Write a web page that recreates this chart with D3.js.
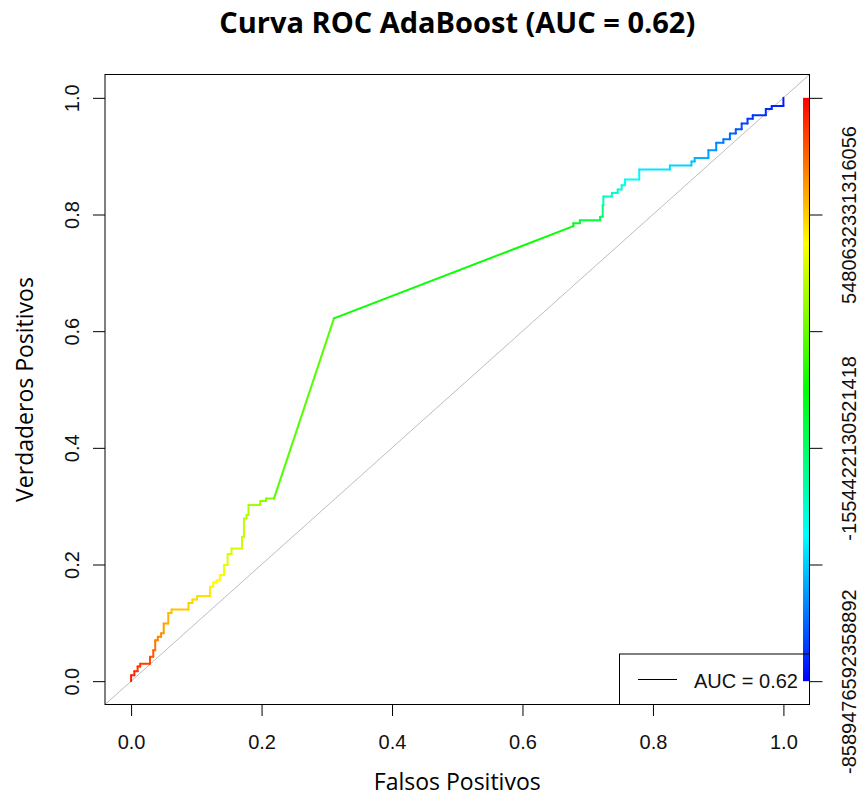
<!DOCTYPE html>
<html>
<head>
<meta charset="utf-8">
<script src="https://cdn.jsdelivr.net/npm/d3@7"></script>
<style>
  body { margin: 0; background: #fff; }
</style>
</head>
<body>
<div id="chart"></div>
<script>
const fpr = [0, 0, 0.005, 0.005, 0.010, 0.010, 0.014, 0.014, 0.029, 0.029,
  0.034, 0.034, 0.037, 0.037, 0.041, 0.041, 0.046, 0.046, 0.050, 0.050,
  0.057, 0.057, 0.062, 0.062, 0.088, 0.088, 0.094, 0.094, 0.101, 0.101,
  0.121, 0.121, 0.126, 0.126, 0.131, 0.131, 0.136, 0.136, 0.1425, 0.1425,
  0.148, 0.148, 0.154, 0.154, 0.170, 0.170, 0.173, 0.173, 0.177, 0.177,
  0.180, 0.180, 0.198, 0.198, 0.207, 0.207, 0.219, 0.311, 0.678, 0.678,
  0.688, 0.688, 0.719, 0.719, 0.723, 0.723, 0.724, 0.724, 0.737, 0.737,
  0.746, 0.746, 0.752, 0.752, 0.757, 0.757, 0.779, 0.779, 0.826, 0.826,
  0.859, 0.859, 0.864, 0.864, 0.885, 0.885, 0.897, 0.897, 0.908, 0.908,
  0.918, 0.918, 0.927, 0.927, 0.936, 0.936, 0.945, 0.945, 0.953, 0.953,
  0.973, 0.973, 0.982, 0.982, 1.000, 1.000]
const tpr = [0, 0.010, 0.010, 0.017, 0.017, 0.025, 0.025, 0.030, 0.030, 0.042,
  0.042, 0.053, 0.053, 0.070, 0.070, 0.076, 0.076, 0.082, 0.082, 0.099,
  0.099, 0.117, 0.117, 0.123, 0.123, 0.134, 0.134, 0.140, 0.140, 0.146,
  0.146, 0.162, 0.162, 0.169, 0.169, 0.173, 0.173, 0.182, 0.182, 0.199,
  0.199, 0.218, 0.218, 0.2275, 0.2275, 0.247, 0.247, 0.279, 0.279, 0.285,
  0.285, 0.302, 0.302, 0.309, 0.309, 0.313, 0.313, 0.622, 0.780, 0.785,
  0.785, 0.790, 0.790, 0.796, 0.796, 0.816, 0.816, 0.831, 0.831, 0.837,
  0.837, 0.843, 0.843, 0.850, 0.850, 0.860, 0.860, 0.877, 0.877, 0.884,
  0.884, 0.891, 0.891, 0.897, 0.897, 0.910, 0.910, 0.923, 0.923, 0.929,
  0.929, 0.939, 0.939, 0.946, 0.946, 0.956, 0.956, 0.964, 0.964, 0.970,
  0.970, 0.981, 0.981, 0.986, 0.986, 1.000]

const cutoffTpr = [0, 0.03, 0.07, 0.12, 0.146, 0.2, 0.3, 0.315, 0.622, 0.78,
  0.8, 0.83, 0.86, 0.88, 0.9, 0.93, 0.96, 1]
const cutoffLevel = [0.98, 0.94, 0.875, 0.81, 0.78, 0.72, 0.667, 0.62, 0.54, 0.48,
  0.4, 0.31, 0.26, 0.22, 0.167, 0.117, 0.06, 0.02]

const xTicks = [0, 0.2, 0.4, 0.6, 0.8, 1.0]
const yTicks = [0, 0.2, 0.4, 0.6, 0.8, 1.0]
const colorbarLabels = ["-8589476592358892", "", "-1554422130521418", "", "5480632331316056", ""]

const titleText = "Curva ROC AdaBoost (AUC = 0.62)"
const xLabel = "Falsos Positivos"
const yLabel = "Verdaderos Positivos"
const legendText = "AUC = 0.62"

//Crea Lienzo
var width = 860
var height = 796
var plotLeft = 105, plotRight = 809.5, plotTop = 74.5, plotBottom = 704.5

var svg = d3.select("#chart")
            .append("svg")
            .attr("width", width)
            .attr("height", height)

var x = d3.scaleLinear().domain([-0.04, 1.04]).range([plotLeft, plotRight])
var y = d3.scaleLinear().domain([-0.04, 1.04]).range([plotBottom, plotTop])

// color tipo rainbow de R (rojo -> azul)
var levelScale = d3.scaleLinear().domain(cutoffTpr).range(cutoffLevel).clamp(true)
function rainbow(level) {
    return d3.hsl(240 * (1 - level), 1, 0.5).formatHex()
}

//Diagonal de referencia
svg.append("line")
    .attr("x1", x(-0.04)).attr("y1", y(-0.04))
    .attr("x2", x(1.04)).attr("y2", y(1.04))
    .attr("stroke", "#bdbdbd")
    .attr("stroke-width", 1)

//Curva coloreada por segmento
var points = fpr.map((f, i) => ({f: f, t: tpr[i]}))
svg.append("g")
    .selectAll("line")
    .data(d3.pairs(points))
    .enter()
    .append("line")
    .attr("x1", d => x(d[0].f)).attr("y1", d => y(d[0].t))
    .attr("x2", d => x(d[1].f)).attr("y2", d => y(d[1].t))
    .attr("stroke", d => rainbow(levelScale((d[0].t + d[1].t) / 2)))
    .attr("stroke-width", 2)
    .attr("stroke-linecap", "round")

//Barra de color
var grad = svg.append("defs").append("linearGradient")
    .attr("id", "cbar")
    .attr("x1", 0).attr("y1", 1).attr("x2", 0).attr("y2", 0)
d3.range(0, 1.0001, 1 / 24).forEach(l => {
    grad.append("stop").attr("offset", l).attr("stop-color", rainbow(l))
})
svg.append("rect")
    .attr("x", plotRight - 6.5)
    .attr("y", y(1))
    .attr("width", 6.5)
    .attr("height", y(0) - y(1))
    .attr("fill", "url(#cbar)")

//Caja del grafico
svg.append("rect")
    .attr("x", plotLeft).attr("y", plotTop)
    .attr("width", plotRight - plotLeft).attr("height", plotBottom - plotTop)
    .attr("fill", "none")
    .attr("stroke", "#000")
    .attr("stroke-width", 1)

var tickFont = "'Liberation Sans', Arial, sans-serif"

//Eje X
var xAxis = svg.append("g")
    .attr("transform", "translate(0," + plotBottom + ")")
    .call(d3.axisBottom(x).tickValues(xTicks).tickFormat(d3.format(".1f")).tickSize(11.5).tickPadding(18.5))
xAxis.select(".domain").remove()

//Eje Y
var yAxis = svg.append("g")
    .attr("transform", "translate(" + plotLeft + ",0)")
    .call(d3.axisLeft(y).tickValues(yTicks).tickFormat(d3.format(".1f")).tickSize(12))
yAxis.select(".domain").remove()
yAxis.selectAll("text")
    .attr("transform", "rotate(-90)")
    .attr("x", 0)
    .attr("y", -33.3)
    .attr("dy", "0.35em")
    .style("text-anchor", "middle")

//Eje de la barra de color
var cAxis = svg.append("g")
    .attr("transform", "translate(" + plotRight + ",0)")
    .call(d3.axisRight(y).tickValues(yTicks).tickFormat((d, i) => colorbarLabels[i]).tickSize(13))
cAxis.select(".domain").remove()
cAxis.selectAll("text")
    .attr("transform", "rotate(-90)")
    .attr("x", 0)
    .attr("y", 39.5)
    .attr("dy", "0.35em")
    .style("text-anchor", "middle")

svg.selectAll(".tick line").attr("stroke", "#000")
svg.selectAll(".tick text")
    .attr("fill", "#111")
    .style("font-family", tickFont)
    .style("font-size", "20px")

//Leyenda
svg.append("rect")
    .attr("x", 619.5).attr("y", 654)
    .attr("width", plotRight - 619.5).attr("height", plotBottom - 654)
    .attr("fill", "none")
    .attr("stroke", "#000")
svg.append("line")
    .attr("x1", 638).attr("x2", 677)
    .attr("y1", 679.5).attr("y2", 679.5)
    .attr("stroke", "#000")
svg.append("text")
    .attr("x", 694).attr("y", 687.5)
    .attr("fill", "#111")
    .style("font-family", tickFont)
    .style("font-size", "20px")
    .text(legendText)

//Titulos
var labelFont = "'Open Sans', 'Noto Sans', sans-serif"
svg.append("text")
    .attr("x", (plotLeft + plotRight) / 2).attr("y", 33)
    .style("text-anchor", "middle")
    .style("font-family", labelFont)
    .style("font-weight", "bold")
    .style("font-size", "29px")
    .text(titleText)

svg.append("text")
    .attr("x", (plotLeft + plotRight) / 2).attr("y", 790)
    .style("text-anchor", "middle")
    .style("font-family", labelFont)
    .style("font-size", "23px")
    .text(xLabel)

svg.append("text")
    .attr("transform", "translate(33," + (plotTop + plotBottom) / 2 + ") rotate(-90)")
    .style("text-anchor", "middle")
    .style("font-family", labelFont)
    .style("font-size", "23px")
    .text(yLabel)
</script>
</body>
</html>
